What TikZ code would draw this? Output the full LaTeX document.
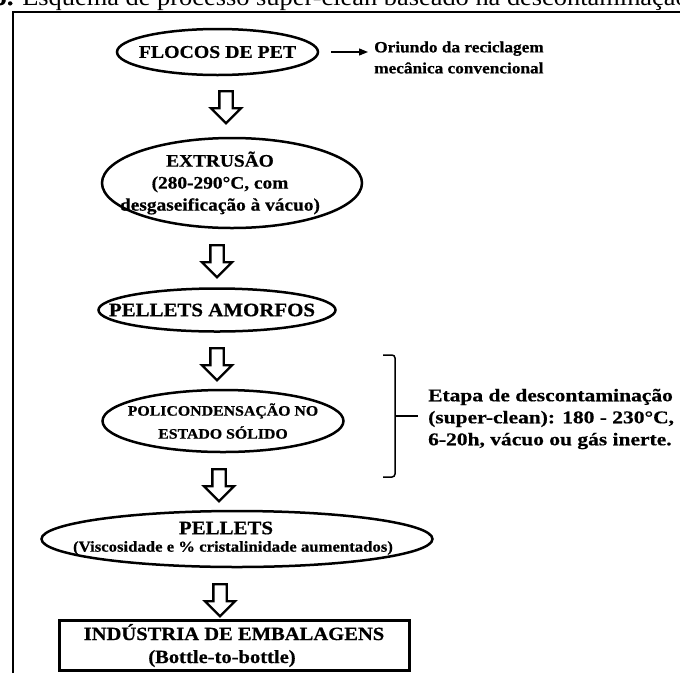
\documentclass[tikz,border=0pt]{standalone}
\usepackage{fontspec}
\setmainfont{Liberation Serif}[FakeStretch=1.1, BoldFeatures={FakeBold=0.6}]
\newfontfamily\widefont{Liberation Serif}[FakeStretch=1.2, BoldFeatures={FakeBold=0.6}]
\usetikzlibrary{shapes.geometric,shapes.arrows,arrows.meta,calc}
\newcommand\fsz[2]{\fontsize{#1}{#2}\selectfont\bfseries}
\begin{document}
\begin{tikzpicture}[x=1pt,y=-1pt,
  ell/.style={ellipse, draw, line width=2.5pt, inner xsep=-80pt, inner ysep=-20pt, align=center},
  hol/.style={single arrow, draw, line width=2.3pt, shape border rotate=270,
    minimum height=32pt, inner sep=5.5pt, single arrow head extend=8.5pt,
    single arrow head indent=0pt},
  txt/.style={inner sep=0pt, align=left},
  ctxt/.style={inner sep=0pt, align=center}]
\useasboundingbox (0,0) rectangle (680,673);
% caption (clipped at top)
\node[anchor=base west, inner sep=0pt, font=\fontsize{24}{28}\selectfont] (cap) at (-8,5)
  {\textbf{b.} Esquema de processo super-clean baseado na descontaminação};
% frame
\draw[line width=2.3pt] (13,673) -- (13,12) -- (682,12);
% nodes
\node[ell, minimum width=201, minimum height=46, font=\fsz{18}{20}] (flocos) at (217.5,52) {FLOCOS DE PET};
\node[txt, anchor=west, font=\fsz{15.7}{21}] (orig) at (374,57.5) {Oriundo da reciclagem\\mecânica convencional};
\node[ell, minimum width=260, minimum height=90] (extr) at (232,183) {};
\node[ctxt, font=\fsz{17.6}{22}] (extrt) at (220,183)
  {EXTRUSÃO\\(280-290°C, com\\desgaseificação à vácuo)};
\node[ell, minimum width=237, minimum height=43] (pam) at (217,310) {};
\node[ctxt, font=\fsz{19}{22}] (pamt) at (212,310) {PELLETS AMORFOS};
\node[ell, minimum width=241, minimum height=62, font=\fsz{14.4}{23}] (poli) at (223,421)
  {POLICONDENSAÇÃO NO\\ESTADO SÓLIDO};
\node[ell, minimum width=391, minimum height=56] (pel) at (237,539) {};
\node[ctxt, font=\fsz{19}{20}] (pelt1) at (226,528) {PELLETS};
\node[ctxt, font=\fsz{15.2}{20}] (pelt2) at (233,548) {(Viscosidade e \% cristalinidade aumentados)};
\node[draw, line width=3pt, minimum width=350, minimum height=49, align=center, font=\fsz{18.7}{23}] (ind) at (234,645.5)
  {INDÚSTRIA DE EMBALAGENS\\(Bottle-to-bottle)\hspace*{24pt}};
\node[txt, anchor=west, font=\widefont\fsz{17.9}{22}] (etapa) at (428,419)
  {Etapa de descontaminação\\(super-clean): 180 - 230°C,\\6-20h, vácuo ou gás inerte.};
% connectors
\draw[line width=1.3pt, -{Triangle[length=9pt,width=7pt]}, shorten <=12pt, shorten >=6pt]
  (flocos.east) -- (flocos.east -| orig.west);
\node[hol] (a1) at (226,104) {};
\node[hol] (a2) at (217,258) {};
\node[hol] (a3) at (217,361) {};
\node[hol] (a4) at (219,482) {};
\node[hol] (a5) at (220,597) {};
% bracket
\coordinate (bt) at (383,355);
\coordinate (bb) at (383,477);
\draw[line width=1.5pt, rounded corners=3pt] (bt) -- (395,355) -- (395,477) -- (bb);
\coordinate (bm) at (395,416);
\draw[line width=1.5pt] (bm) -- (418,416);
\end{tikzpicture}
\end{document}
